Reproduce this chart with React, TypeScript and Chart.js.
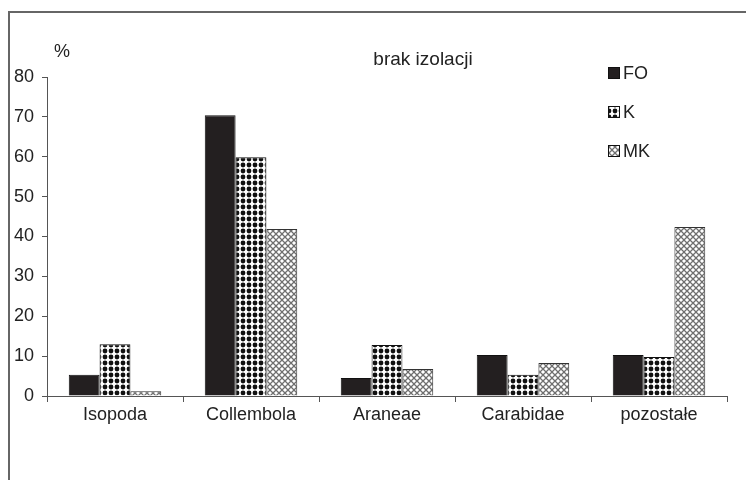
import React, { useEffect, useRef } from "react";
import { Chart, registerables } from "chart.js";

Chart.register(...registerables);

const categories = ["Isopoda", "Collembola", "Araneae", "Carabidae", "pozostałe"];
const seriesNames = ["FO", "K", "MK"];
const foValues = [5.3, 70.4, 4.5, 10.3, 10.3];
const kValues = [13.0, 59.9, 12.8, 5.3, 9.8];
const mkValues = [1.2, 41.9, 6.8, 8.3, 42.4];
const yMax = 80;
const yStep = 10;
const titleText = "brak izolacji";
const unitText = "%";

const FONT = "'Liberation Sans', Arial, sans-serif";

function makeDotPattern(): CanvasPattern | string {
  const c = document.createElement("canvas");
  c.width = 6;
  c.height = 6;
  const g = c.getContext("2d");
  if (!g) return "#666";
  g.fillStyle = "#ffffff";
  g.fillRect(0, 0, 6, 6);
  g.fillStyle = "#111111";
  g.beginPath();
  g.arc(3, 3, 2.4, 0, Math.PI * 2);
  g.fill();
  return g.createPattern(c, "repeat") || "#666";
}

function makeCrossPattern(): CanvasPattern | string {
  const c = document.createElement("canvas");
  c.width = 6;
  c.height = 6;
  const g = c.getContext("2d");
  if (!g) return "#bbb";
  g.fillStyle = "#ffffff";
  g.fillRect(0, 0, 6, 6);
  g.strokeStyle = "#6f6f6f";
  g.lineWidth = 1.3;
  g.beginPath();
  g.moveTo(-1, -1);
  g.lineTo(7, 7);
  g.moveTo(7, -1);
  g.lineTo(-1, 7);
  g.stroke();
  return g.createPattern(c, "repeat") || "#bbb";
}

export default function App() {
  const ref = useRef<HTMLCanvasElement | null>(null);

  useEffect(() => {
    if (!ref.current) return;
    const dot = makeDotPattern();
    const cross = makeCrossPattern();

    const overlay = {
      id: "overlay",
      afterDraw(chart: any) {
        const ctx = chart.ctx;
        ctx.save();
        ctx.fillStyle = "#222";
        ctx.textBaseline = "middle";
        ctx.textAlign = "left";
        ctx.font = `18px ${FONT}`;
        ctx.fillText(unitText, 54, 52);
        ctx.textAlign = "center";
        ctx.font = `19px ${FONT}`;
        ctx.fillText(titleText, 423, 60);
        // legend
        ctx.textAlign = "left";
        ctx.font = `18px ${FONT}`;
        chart.data.datasets.forEach((ds: any, i: number) => {
          const y = 73 + i * 39;
          ctx.fillStyle = ds.backgroundColor;
          ctx.fillRect(608, y - 6, 12, 12);
          ctx.strokeStyle = "#111";
          ctx.lineWidth = 1;
          ctx.strokeRect(608.5, y - 5.5, 11, 11);
          ctx.fillStyle = "#222";
          ctx.fillText(ds.label, 623, y + 1);
        });
        ctx.restore();
      },
    };

    const chart = new Chart(ref.current, {
      type: "bar",
      data: {
        labels: categories,
        datasets: [
          { label: seriesNames[0], data: foValues, backgroundColor: "#231f20", borderColor: "#111", borderWidth: 1 },
          { label: seriesNames[1], data: kValues, backgroundColor: dot as any, borderColor: "#111", borderWidth: 1 },
          { label: seriesNames[2], data: mkValues, backgroundColor: cross as any, borderColor: "#333", borderWidth: 1 },
        ],
      },
      options: {
        animation: false,
        responsive: false,
        maintainAspectRatio: false,
        layout: { padding: { top: 77, right: 19, left: 0, bottom: 0 } },
        plugins: {
          legend: { display: false },
          title: { display: false },
          tooltip: { enabled: false },
        },
        datasets: { bar: { categoryPercentage: 0.68, barPercentage: 1 } },
        scales: {
          x: {
            offset: true,
            grid: {
              offset: true,
              drawOnChartArea: false,
              drawTicks: true,
              tickLength: 6,
              color: "#555",
            },
            border: { color: "#555", width: 1 },
            ticks: { color: "#222", font: { family: FONT, size: 18 }, padding: 2 },
            afterFit(scale: any) {
              scale.height = 480 - 396;
            },
          },
          y: {
            min: 0,
            max: yMax,
            ticks: { stepSize: yStep, color: "#222", font: { family: FONT, size: 18 }, padding: 8 },
            grid: { drawOnChartArea: false, tickLength: 5, color: "#555" },
            border: { color: "#555", width: 1 },
            afterFit(scale: any) {
              scale.width = 47;
            },
          },
        },
      },
      plugins: [overlay],
    });
    return () => chart.destroy();
  }, []);

  return (
    <div style={{ position: "fixed", left: 0, top: 0, width: 746, height: 480, background: "#fff" }}>
      <div
        style={{
          position: "absolute",
          left: 8,
          top: 11,
          width: 760,
          height: 480,
          borderTop: "2px solid #666",
          borderLeft: "2px solid #666",
        }}
      />
      <canvas ref={ref} width={746} height={480} style={{ position: "absolute", left: 0, top: 0 }} />
    </div>
  );
}
